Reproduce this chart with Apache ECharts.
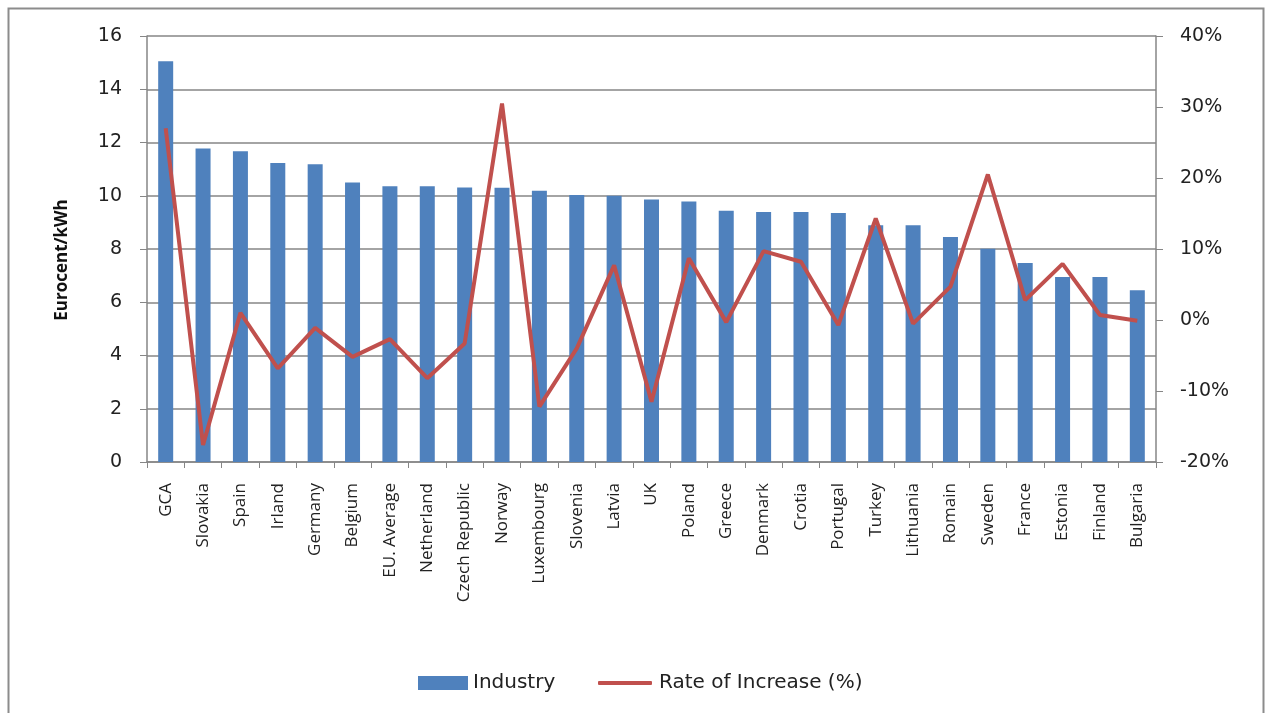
<!DOCTYPE html>
<html><head><meta charset="utf-8">
<script src="https://cdn.jsdelivr.net/npm/echarts@6/dist/echarts.min.js"></script>
<style>html,body{margin:0;padding:0;background:#fff}#c{width:1266px;height:713px}</style>
</head><body><div id="c"></div>
<script>
const categories = ["GCA","Slovakia","Spain","Irland","Germany","Belgium","EU. Average","Netherland","Czech Republic","Norway","Luxembourg","Slovenia","Latvia","UK","Poland","Greece","Denmark","Crotia","Portugal","Turkey","Lithuania","Romain","Sweden","France","Estonia","Finland","Bulgaria"];
const industry = [15.05,11.77,11.67,11.23,11.18,10.5,10.36,10.36,10.31,10.3,10.19,10.03,10.0,9.86,9.78,9.44,9.39,9.39,9.35,8.89,8.89,8.45,8.01,7.47,6.95,6.95,6.45];
const rateOfIncrease = [27.0,-17.6,1.0,-6.8,-1.1,-5.2,-2.7,-8.2,-3.3,30.5,-12.2,-4.0,7.7,-11.5,8.7,-0.3,9.7,8.2,-0.7,14.3,-0.5,4.7,20.5,2.8,7.9,0.7,-0.1];
const leftTicks = {min:0,max:16,interval:2};
const rightTicks = {min:-20,max:40,interval:10};

const chart = echarts.init(document.getElementById('c'));
const FONT = '"Open Sans", "Liberation Sans", sans-serif';
const WIDE = '"DejaVu Sans", sans-serif';
const grey = '#868686';
chart.setOption({
  animation:false,
  backgroundColor:'#fff',
  graphic:[
    {type:'rect',shape:{x:8.5,y:8.5,width:1255,height:720},style:{fill:'none',stroke:'#8c8c8c',lineWidth:2},silent:true,z:-1},
    {type:'text',x:62,y:260,rotation:Math.PI/2,style:{text:'Eurocent/kWh',fontFamily:FONT,fontSize:17,fontWeight:'bold',fill:'#111',align:'center',verticalAlign:'middle'}}
  ],
  grid:{left:147,right:110,top:36,bottom:251,containLabel:false},
  legend:[{
    left:413,top:668,itemWidth:50,itemHeight:14,itemGap:10,
    textStyle:{fontFamily:WIDE,fontSize:20,color:'#222'},
    data:[{name:'Industry',icon:'rect'}]
  },{
    left:593,top:668,itemWidth:54,itemHeight:4,
    textStyle:{fontFamily:WIDE,fontSize:20,color:'#222',padding:[0,0,0,2]},
    data:[{name:'Rate of Increase (%)',icon:'roundRect'}]
  }],
  xAxis:{
    type:'category',data:categories,
    axisLine:{lineStyle:{color:grey,width:1.5}},
    axisTick:{show:true,alignWithLabel:false,length:6,lineStyle:{color:grey}},
    axisLabel:{rotate:90,interval:0,fontFamily:FONT,fontSize:17,color:'#222',margin:21}
  },
  yAxis:[{
    type:'value',min:leftTicks.min,max:leftTicks.max,interval:leftTicks.interval,
    axisLine:{show:true,lineStyle:{color:grey,width:1.5}},
    axisTick:{show:true,length:7,lineStyle:{color:grey}},
    axisLabel:{fontFamily:WIDE,fontSize:19,color:'#222',margin:25},
    splitLine:{show:true,lineStyle:{color:grey,width:1.5}}
  },{
    type:'value',min:rightTicks.min,max:rightTicks.max,interval:rightTicks.interval,position:'right',
    axisLine:{show:true,lineStyle:{color:grey,width:1.5}},
    axisTick:{show:true,length:7,lineStyle:{color:grey}},
    axisLabel:{fontFamily:WIDE,fontSize:19,color:'#222',margin:24,formatter:v=>v+'%'},
    splitLine:{show:false}
  }],
  series:[{
    name:'Industry',type:'bar',data:industry,barWidth:15,yAxisIndex:0,
    itemStyle:{color:'#4F81BD'}
  },{
    name:'Rate of Increase (%)',type:'line',data:rateOfIncrease,yAxisIndex:1,
    symbol:'none',lineStyle:{color:'#C0504D',width:4},itemStyle:{color:'#C0504D'}
  }]
});
</script></body></html>
